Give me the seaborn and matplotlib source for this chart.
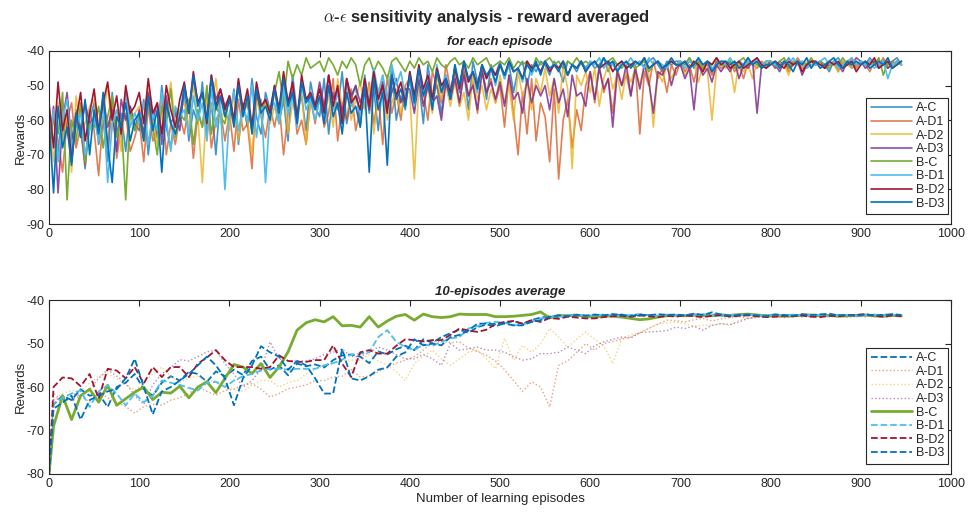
import numpy as np
import pandas as pd
import matplotlib
matplotlib.use("Agg")
import matplotlib.pyplot as plt
import seaborn as sns

# ---- data ---------------------------------------------------------------
labels = ["A-C", "A-D1", "A-D2", "A-D3", "B-C", "B-D1", "B-D2", "B-D3"]
colors = ["#0072BD", "#D95319", "#EDB120", "#7E2F8E",
          "#77AC30", "#4DBEEE", "#A2142F", "#0072BD"]

# episode index of the raw rewards (read every 5th episode)
episodes = np.arange(0, 950, 5)
# episode index of the 10-episode averages
avg_episodes = np.r_[0, np.arange(5, 950, 10)]

# raw reward per episode
top_AC = [-66,-58,-71,-55,-63,-69,-57,-62,-74,-60, -55,-67,-60,-72,-52,-64,-58,-69,-56,-61,
          -63,-54,-70,-58,-65,-50,-62,-68,-57,-60, -52,-66,-57,-61,-49,-64,-55,-70,-53,-58,
          -60,-51,-67,-55,-62,-48,-59,-64,-52,-57, -50,-61,-54,-66,-47,-58,-53,-63,-49,-56,
          -59,-48,-64,-52,-57,-46,-61,-54,-50,-62, -47,-58,-51,-63,-49,-55,-45,-60,-53,-57,
          -46,-56,-49,-61,-44,-53,-50,-58,-47,-54, -44,-52,-46,-57,-43,-49,-45,-54,-44,-47,
          -43,-48,-44,-52,-45,-43,-50,-44,-46,-43, -44,-47,-43,-45,-49,-43,-44,-46,-43,-45,
          -43,-45,-44,-42,-46,-43,-44,-43,-45,-44, -44,-43,-45,-43,-42,-44,-46,-43,-44,-43,
          -43,-44,-42,-45,-43,-44,-43,-46,-43,-44, -44,-43,-45,-43,-44,-42,-44,-43,-45,-43,
          -43,-45,-43,-44,-42,-44,-43,-45,-44,-43, -44,-43,-44,-46,-43,-42,-44,-43,-45,-44,
          -43,-44,-42,-44,-45,-43,-44,-43,-42,-44]
top_AD1 = [-70,-58,-66,-75,-60,-55,-68,-62,-73,-57, -63,-76,-59,-67,-54,-71,-62,-58,-69,-65,
           -60,-72,-56,-66,-63,-53,-70,-61,-67,-59, -64,-55,-71,-58,-62,-52,-68,-60,-57,-66,
           -58,-69,-54,-63,-61,-74,-52,-59,-65,-56, -62,-55,-70,-58,-51,-64,-60,-67,-54,-61,
           -53,-62,-58,-48,-66,-55,-60,-51,-63,-57, -56,-49,-61,-53,-67,-47,-58,-52,-60,-50,
           -48,-57,-45,-52,-60,-46,-50,-55,-44,-51, -47,-56,-44,-53,-49,-58,-45,-52,-48,-55,
           -50,-62,-47,-58,-70,-52,-64,-48,-66,-55, -59,-72,-51,-77,-60,-54,-68,-57,-63,-50,
           -46,-55,-44,-52,-48,-58,-45,-50,-47,-53, -44,-64,-46,-50,-43,-48,-45,-52,-44,-47,
           -43,-46,-44,-49,-43,-45,-44,-47,-43,-45, -44,-43,-46,-44,-48,-43,-44,-45,-43,-44,
           -43,-45,-44,-43,-46,-44,-42,-44,-45,-43, -44,-43,-45,-44,-43,-46,-43,-44,-42,-45,
           -43,-44,-46,-43,-44,-42,-45,-43,-44,-43]
top_AD2 = [-60,-72,-55,-66,-58,-75,-53,-64,-61,-56, -54,-66,-59,-50,-63,-57,-69,-52,-60,-58,
           -56,-64,-51,-60,-67,-53,-58,-49,-62,-57, -55,-62,-50,-59,-78,-54,-57,-48,-61,-56,
           -63,-52,-66,-57,-60,-70,-54,-59,-55,-61, -56,-61,-50,-64,-55,-58,-52,-67,-54,-57,
           -50,-58,-53,-62,-48,-56,-51,-60,-54,-49, -57,-50,-64,-53,-47,-60,-55,-51,-58,-52,
           -52,-77,-49,-55,-51,-58,-47,-54,-50,-56, -49,-56,-52,-60,-47,-54,-50,-57,-51,-55,
           -47,-55,-50,-60,-46,-53,-49,-57,-48,-52, -45,-53,-48,-58,-44,-51,-74,-47,-50,-46,
           -52,-45,-56,-48,-44,-51,-47,-54,-46,-49, -45,-50,-44,-47,-62,-46,-49,-44,-48,-45,
           -44,-47,-45,-43,-49,-44,-46,-60,-45,-43, -45,-44,-52,-43,-46,-44,-48,-43,-45,-44,
           -44,-43,-45,-44,-47,-43,-44,-45,-43,-44, -43,-45,-44,-43,-44,-46,-43,-44,-45,-43,
           -44,-43,-45,-44,-43,-44,-42,-45,-43,-44]
top_AD3 = [-68,-56,-81,-60,-52,-66,-58,-63,-55,-61, -59,-65,-53,-62,-57,-69,-54,-60,-56,-63,
           -57,-64,-52,-60,-55,-67,-53,-61,-58,-63, -50,-57,-48,-55,-52,-60,-47,-54,-51,-56,
           -53,-61,-50,-58,-55,-63,-52,-57,-54,-59, -51,-57,-48,-55,-52,-59,-50,-54,-53,-56,
           -49,-56,-47,-54,-51,-58,-48,-53,-50,-55, -50,-57,-47,-54,-49,-56,-52,-48,-55,-51,
           -51,-58,-48,-56,-50,-55,-53,-60,-49,-54, -48,-55,-47,-53,-50,-57,-46,-52,-49,-54,
           -49,-56,-47,-54,-52,-58,-48,-55,-50,-53, -50,-57,-48,-55,-51,-59,-47,-53,-52,-56,
           -46,-54,-45,-51,-48,-62,-46,-50,-44,-53, -45,-51,-44,-49,-58,-46,-47,-44,-50,-45,
           -44,-48,-45,-57,-44,-47,-45,-49,-44,-46, -44,-46,-43,-48,-44,-45,-43,-58,-44,-45,
           -43,-44,-46,-43,-45,-44,-43,-47,-44,-43, -44,-43,-45,-44,-43,-44,-46,-43,-44,-42,
           -43,-45,-44,-43,-44,-43,-45,-44,-43,-44]
top_BC = [-70,-58,-64,-52,-83,-60,-66,-55,-72,-61, -62,-56,-68,-59,-53,-65,-60,-83,-57,-63,
          -59,-66,-54,-62,-70,-56,-61,-51,-65,-58, -60,-54,-67,-57,-62,-50,-64,-56,-59,-61,
          -53,-60,-49,-58,-55,-63,-51,-57,-54,-59, -52,-46,-55,-43,-48,-44,-47,-42,-45,-44,
          -43,-46,-42,-44,-47,-43,-45,-42,-44,-50, -44,-42,-46,-43,-45,-48,-43,-42,-44,-46,
          -43,-45,-42,-44,-43,-46,-42,-44,-45,-43, -42,-44,-43,-45,-42,-44,-43,-42,-45,-44,
          -43,-44,-42,-45,-43,-44,-43,-46,-42,-44, -43,-42,-44,-43,-45,-43,-44,-42,-44,-43,
          -44,-43,-45,-44,-43,-42,-44,-45,-43,-44, -45,-44,-43,-46,-44,-43,-45,-44,-43,-44,
          -43,-44,-42,-44,-43,-45,-43,-44,-42,-44, -44,-43,-45,-43,-42,-44,-43,-44,-45,-43,
          -43,-44,-43,-42,-45,-43,-44,-43,-44,-42, -44,-43,-44,-45,-43,-44,-42,-44,-43,-44,
          -43,-44,-43,-44,-42,-47,-43,-44,-43,-44]
top_BD1 = [-66,-57,-72,-60,-54,-68,-62,-58,-70,-63, -59,-66,-55,-78,-61,-57,-64,-52,-62,-58,
           -61,-55,-67,-58,-63,-52,-60,-69,-56,-59, -57,-64,-53,-60,-55,-66,-51,-62,-56,-80,
           -58,-52,-63,-56,-60,-50,-65,-54,-78,-57, -55,-61,-51,-58,-53,-62,-49,-57,-54,-60,
           -54,-60,-50,-57,-52,-61,-49,-56,-53,-58, -48,-55,-45,-52,-47,-54,-44,-50,-46,-53,
           -49,-56,-45,-53,-48,-55,-44,-51,-47,-52, -45,-51,-43,-49,-46,-52,-44,-48,-45,-50,
           -44,-48,-43,-46,-45,-49,-43,-47,-44,-46, -43,-46,-44,-45,-43,-47,-44,-45,-43,-46,
           -43,-44,-42,-45,-43,-44,-46,-43,-44,-42, -44,-43,-45,-42,-44,-43,-44,-45,-43,-44,
           -43,-45,-43,-44,-42,-44,-43,-45,-44,-43, -44,-42,-44,-43,-45,-43,-44,-42,-44,-43,
           -43,-44,-45,-43,-44,-42,-44,-43,-45,-44, -44,-43,-42,-44,-43,-45,-44,-43,-42,-44,
           -43,-44,-43,-45,-44,-43,-48,-44,-43,-44]
top_BD2 = [-55,-68,-49,-63,-57,-72,-60,-52,-66,-58, -51,-63,-55,-49,-60,-53,-64,-50,-58,-56,
           -52,-61,-48,-58,-55,-64,-50,-57,-62,-54, -49,-58,-46,-55,-52,-61,-47,-56,-51,-57,
           -53,-60,-48,-57,-51,-62,-49,-56,-54,-58, -50,-57,-46,-55,-49,-60,-47,-54,-52,-56,
           -51,-58,-47,-56,-50,-61,-48,-55,-53,-57, -48,-56,-46,-54,-50,-58,-47,-53,-49,-55,
           -46,-53,-44,-51,-47,-54,-45,-50,-48,-52, -45,-51,-43,-49,-46,-50,-44,-48,-45,-47,
           -44,-47,-43,-46,-45,-48,-43,-45,-44,-46, -43,-46,-44,-45,-43,-47,-44,-45,-43,-46,
           -44,-43,-45,-44,-43,-46,-44,-43,-45,-44, -43,-44,-42,-45,-44,-43,-45,-44,-43,-44,
           -44,-43,-45,-43,-44,-46,-43,-44,-42,-44, -43,-45,-44,-43,-45,-44,-43,-42,-44,-45,
           -44,-43,-44,-45,-43,-44,-43,-46,-44,-43, -43,-44,-45,-43,-44,-43,-45,-44,-43,-46,
           -44,-43,-44,-42,-45,-44,-43,-45,-44,-43]
top_BD3 = [-60,-81,-56,-68,-62,-73,-58,-65,-54,-70, -57,-64,-52,-67,-78,-59,-62,-55,-66,-60,
           -58,-66,-53,-63,-57,-75,-55,-61,-64,-59, -50,-58,-47,-56,-52,-60,-48,-57,-53,-59,
           -54,-62,-50,-59,-53,-64,-51,-58,-56,-60, -51,-58,-48,-56,-52,-61,-49,-55,-53,-57,
           -53,-61,-50,-59,-55,-64,-52,-58,-56,-62, -50,-75,-48,-57,-52,-73,-47,-54,-51,-56,
           -47,-55,-45,-53,-49,-57,-46,-52,-48,-54, -44,-50,-43,-48,-46,-51,-44,-47,-45,-49,
           -44,-47,-43,-46,-45,-48,-44,-46,-43,-47, -43,-45,-44,-46,-43,-47,-44,-45,-43,-46,
           -44,-43,-45,-42,-44,-43,-46,-44,-43,-45, -43,-44,-42,-45,-44,-43,-45,-44,-42,-44,
           -44,-43,-45,-44,-42,-44,-43,-46,-44,-43, -43,-44,-43,-45,-44,-42,-44,-43,-45,-44,
           -44,-43,-45,-43,-44,-46,-43,-44,-42,-45, -43,-45,-44,-43,-42,-44,-45,-43,-44,-43,
           -44,-43,-45,-44,-43,-44,-42,-45,-44,-43]

# 10-episode averaged reward
avg_AC = [-80,-64,-62,-63,-60.5,-62,-61.5,-64.6,-60,-59,
          -57,-60.5,-62,-59,-57.5,-58.5,-56.5,-57,-58.8,-56.4,
          -57.5,-56,-57.2,-54,-53,-56,-55,-57.3,-54.6,-55.2,
          -54.8,-55.5,-53.8,-52.7,-52.5,-53,-54.5,-51.8,-52.5,-51.3,
          -50.5,-51.5,-49,-49.8,-48.5,-47.6,-46.8,-47.5,-46.2,-45.6,
          -46,-45.3,-44.8,-45.5,-44.6,-44,-43.7,-43.9,-43.5,-43.8,
          -43.5,-43.7,-43.4,-43.6,-43.3,-43.8,-43.5,-43.4,-43.6,-43.5,
          -43.4,-43.6,-43.3,-43.5,-43.2,-43.6,-43.4,-43.5,-43.3,-43.6,
          -43.5,-43.3,-43.6,-43.4,-43.5,-43.7,-43.3,-43.5,-43.4,-43.6,
          -43.5,-43.4,-43.6,-43.3,-43.5,-43.4]
avg_AD1 = [-80,-61.5,-63,-63,-62,-63.5,-61,-62.5,-63.5,-64.5,
           -66,-64.5,-64,-64.2,-63,-62.5,-61.5,-60,-61,-61.9,
           -60.8,-60.5,-59.5,-59.2,-60.5,-62.3,-61.5,-60.4,-60,-59.5,
           -58.5,-58.5,-57.7,-57.5,-56,-57.7,-57.5,-56.5,-55.4,-54.5,
           -53.8,-53,-51.5,-49.6,-49.5,-49.8,-49.6,-51,-51.8,-52.7,
           -54,-56,-58.5,-61,-58.8,-60,-64.6,-55,-54,-52,
           -50,-51.5,-50,-49.5,-49,-48.5,-47.5,-46.5,-45.5,-44.6,
           -44.7,-45,-44.5,-44.2,-44.8,-44.3,-44,-43.8,-44.2,-43.9,
           -43.7,-44,-43.8,-43.6,-43.9,-43.7,-43.6,-43.8,-43.5,-43.7,
           -43.8,-43.6,-43.9,-43.7,-43.5,-43.8]
avg_AD2 = [-80,-63,-61.5,-60.8,-61,-59,-57.5,-56.9,-58,-59.5,
           -60.8,-59,-57,-55.4,-57.5,-59,-58,-57.5,-58.5,-58.5,
           -59.5,-60.5,-61,-59.5,-58.5,-58.5,-60,-59,-58.5,-57,
           -56,-55,-54.5,-53.8,-53.8,-53.8,-52.5,-54,-55,-56.5,
           -58.5,-54.6,-53,-51.5,-53.5,-55,-53.5,-52,-51.5,-53.5,
           -55.8,-48.8,-53.8,-50.4,-52,-50,-46.5,-48.5,-50.8,-49,
           -47.3,-49,-50.5,-54.6,-48.8,-48,-47.5,-46.5,-45.5,-45.2,
           -45,-45.5,-46,-45.8,-45.8,-45.4,-45.8,-44.6,-44.2,-44,
           -43.8,-44,-43.7,-43.9,-43.6,-43.8,-43.7,-43.5,-43.9,-43.6,
           -43.8,-43.5,-43.7,-43.9,-43.6,-43.7]
avg_AD3 = [-80,-63,-62.5,-61.5,-62,-60.5,-58,-56,-57.5,-59,
           -62,-64,-59.5,-57,-55.5,-53.7,-54,-53,-51.9,-51.5,
           -54.6,-57,-60,-58.5,-56,-49.6,-53.5,-54,-54,-54,
           -53.5,-52.5,-52,-51.2,-53,-53,-52,-50.8,-51.5,-52.5,
           -53.5,-53.5,-52.5,-53.5,-55,-50,-51.5,-51.2,-50.8,-51.5,
           -51.5,-52,-53,-53.8,-53.5,-52.3,-52.3,-52,-50.8,-51.5,
           -52.3,-50.5,-49.6,-49,-48.5,-48.7,-47.5,-47.3,-47.2,-47,
           -46.2,-46.5,-46,-46.9,-45.8,-45.4,-45.6,-45,-44.2,-43.8,
           -43.9,-43.7,-44,-43.8,-43.6,-43.9,-43.7,-43.8,-43.6,-43.9,
           -43.7,-43.8,-43.6,-43.9,-43.7,-43.8]
avg_BC = [-80,-69,-62,-67.5,-62,-60.5,-63.5,-59.6,-64.2,-62.7,
          -61.2,-60,-62.9,-61.2,-61.4,-59.8,-62.5,-60,-58.8,-61.3,
          -58,-54.8,-55.4,-56.9,-54.6,-57.8,-55.4,-51.9,-46.9,-45.2,
          -44.5,-45,-43.8,-45.9,-45.8,-46.2,-43.8,-46.2,-44.8,-43.7,
          -43.3,-44.6,-43.2,-43.8,-44,-43.8,-43.2,-43.3,-43.3,-43.3,
          -43.8,-43.8,-43.7,-43.5,-43.3,-42.7,-44.1,-43.5,-43.6,-43.4,
          -43.8,-43.9,-43.6,-43.7,-43.9,-44.2,-44.5,-44.3,-43.9,-43.6,
          -43.5,-43.6,-43.4,-43.5,-43.6,-43.4,-43.5,-43.3,-43.2,-43.4,
          -43.6,-43.5,-43.7,-43.6,-43.5,-43.4,-43.6,-43.5,-43.7,-43.6,
          -43.5,-43.4,-43.6,-43.7,-43.5,-43.6]
avg_BD1 = [-80,-63.8,-62.5,-61.5,-60.8,-64.6,-61,-59.6,-61.5,-64.2,
           -61.5,-63.5,-62,-58.5,-59,-59.5,-60.2,-60.8,-59,-58.8,
           -60,-58.5,-57.5,-57,-56.2,-55.8,-55.8,-56,-55.8,-55.8,
           -55.8,-55,-54.5,-53.7,-52.5,-52.3,-52,-48.5,-46.9,-49.6,
           -50.8,-51.5,-50.2,-50.5,-49.6,-48.8,-48.5,-46.5,-46,-45.2,
           -45,-45.2,-45.8,-45.6,-45,-44.2,-44,-43.8,-43.6,-43.5,
           -43.4,-43.6,-43.3,-43.5,-43.7,-43.4,-43.2,-43.5,-43.6,-43.3,
           -43.5,-43.4,-43.6,-43.2,-43.5,-43.7,-43.4,-43.6,-43.3,-43.5,
           -43.6,-43.4,-43.5,-43.3,-43.6,-43.5,-43.4,-43.7,-43.5,-43.4,
           -43.6,-43.5,-43.3,-43.6,-43.4,-43.5]
avg_BD2 = [-80,-60,-57.8,-58,-59.8,-57,-62.7,-55.8,-56.2,-58,
           -55.4,-59.2,-55.4,-57.7,-55.4,-55.4,-57.7,-54.6,-53.2,-51.5,
           -53.8,-55.4,-55.4,-55.4,-55.8,-55.4,-52.7,-54,-54.2,-54.2,
           -53.8,-53.8,-50.4,-54.6,-57.7,-52,-51.5,-52.3,-52.3,-50.5,
           -49,-49.2,-49.5,-49.2,-49.2,-48,-46.5,-47,-47.3,-46.8,
           -45.5,-45,-44.8,-45.4,-44.6,-45,-44.1,-44.3,-43.8,-44,
           -44.2,-44.2,-43.9,-43.7,-43.6,-43.8,-43.5,-43.7,-43.9,-43.6,
           -43.8,-43.5,-43.7,-43.9,-43.6,-43.4,-43.8,-43.6,-43.5,-43.7,
           -43.9,-43.8,-43.6,-43.7,-43.5,-43.8,-43.9,-43.6,-43.7,-43.5,
           -43.4,-43.2,-43.6,-43.8,-43.5,-43.7]
avg_BD3 = [-80,-65,-63.6,-62,-67.5,-63,-62,-61,-60.5,-58,
           -53.5,-60,-66.3,-61,-60,-58.5,-57,-55,-53,-55,
           -58,-64.2,-58,-55,-50.6,-52,-53,-56,-54,-55,
           -58,-61.5,-61.5,-51.2,-58,-58.5,-57.5,-56,-55.5,-53,
           -52,-49,-50.4,-50,-50.4,-48.5,-48,-47,-45.4,-45.4,
           -45.5,-45.4,-45.8,-45.8,-45,-44.6,-43.8,-43.5,-43.7,-43.4,
           -43.6,-43.3,-43.5,-43.2,-43.4,-43.6,-43.3,-43.5,-43.2,-43.4,
           -43.3,-43.5,-43.1,-43.4,-42.8,-43.3,-43.6,-43.4,-43.3,-43.5,
           -43.7,-43.3,-43.4,-43.6,-43.2,-43.4,-43.3,-43.1,-43.5,-43.4,
           -43.6,-43.3,-43.5,-43.4,-43.2,-43.4]

top_series = [top_AC, top_AD1, top_AD2, top_AD3, top_BC, top_BD1, top_BD2, top_BD3]
avg_series = [avg_AC, avg_AD1, avg_AD2, avg_AD3, avg_BC, avg_BD1, avg_BD2, avg_BD3]

# line styles of the averaged panel
avg_ls = ["--", ":", ":", ":", "-", "--", "--", "--"]
avg_lw = [1.3, 1.0, 1.0, 1.0, 2.0, 1.3, 1.3, 1.3]
avg_alpha = [1.0, 0.55, 0.55, 0.55, 1.0, 1.0, 1.0, 1.0]
top_alpha = [0.75, 0.75, 0.8, 0.85, 1.0, 1.0, 1.0, 1.0]

# ---- style ------------------------------------------------------------
sns.set_style("white")
plt.rcParams["font.family"] = ["Liberation Sans", "DejaVu Sans"]
plt.rcParams["mathtext.fontset"] = "cm"
plt.rcParams["axes.unicode_minus"] = False
plt.rcParams["axes.edgecolor"] = "#262626"
plt.rcParams["xtick.color"] = "#262626"
plt.rcParams["ytick.color"] = "#262626"

fig = plt.figure(figsize=(9.73, 5.14), dpi=100)
ax1 = fig.add_axes([0.0504, 0.564, 0.927, 0.337])
ax2 = fig.add_axes([0.0504, 0.078, 0.927, 0.338])

for i, lab in enumerate(labels):
    sns.lineplot(x=episodes, y=top_series[i], ax=ax1, color=colors[i],
                 lw=1.2, alpha=top_alpha[i], label=lab)

for i, lab in enumerate(labels):
    sns.lineplot(x=avg_episodes, y=avg_series[i], ax=ax2, color=colors[i],
                 lw=avg_lw[i], linestyle=avg_ls[i], alpha=avg_alpha[i], label=lab)

def style_axes(ax, ylim, yticks, subtitle):
    ax.set_xlim(0, 1000)
    ax.set_ylim(*ylim)
    ax.set_xticks(np.arange(0, 1001, 100))
    ax.set_yticks(yticks)
    ax.tick_params(direction="in", length=4, width=0.8, labelsize=9,
                   top=True, right=True, pad=3)
    for s in ax.spines.values():
        s.set_linewidth(0.8)
    ax.set_ylabel("Rewards", fontsize=9.5, labelpad=0)
    ax.set_xlabel("")
    ax.set_title(subtitle, fontsize=9.5, fontweight="bold", style="italic", pad=4)
    leg = ax.legend(loc="lower right", bbox_to_anchor=(0.997, 0.058),
                    fontsize=9, frameon=True, fancybox=False, framealpha=1,
                    edgecolor="#262626", handlelength=3.3, handletextpad=0.3,
                    labelspacing=0.13, borderpad=0.35, borderaxespad=0)
    leg.get_frame().set_linewidth(0.8)

style_axes(ax1, (-90, -40), np.arange(-90, -39, 10), "for each episode")
style_axes(ax2, (-80, -40), np.arange(-80, -39, 10), "10-episodes average")
ax2.set_xlabel("Number of learning episodes", fontsize=9.5, labelpad=2)

fig.suptitle(r"$\alpha$-$\epsilon$ sensitivity analysis - reward averaged",
             fontsize=12, fontweight="bold", y=0.985)

fig.savefig("out.png", dpi=100)
